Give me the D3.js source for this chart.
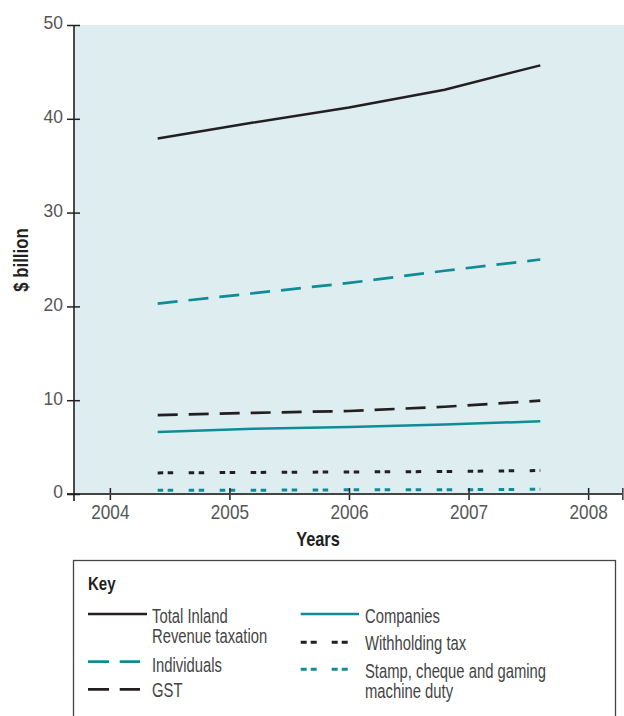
<!DOCTYPE html>
<html><head><meta charset="utf-8">
<script src="https://cdn.jsdelivr.net/npm/d3@7"></script>
<style>
html,body{margin:0;padding:0;background:#fff;}
svg{display:block;}
text{font-family:"Liberation Sans",Arial,sans-serif;}
</style></head>
<body><svg id="chart" width="624" height="716"></svg>
<script>
const years = [2004.4, 2005.2, 2006.0, 2006.8, 2007.6];
const total = [37.9, 39.6, 41.2, 43.1, 45.7];
const individuals = [20.3, 21.4, 22.5, 23.8, 25.0];
const gst = [8.4, 8.65, 8.85, 9.3, 9.95];
const companies = [6.6, 6.95, 7.15, 7.4, 7.75];
const withholding = [2.25, 2.3, 2.35, 2.4, 2.5];
const stamp = [0.4, 0.4, 0.45, 0.45, 0.5];
const xTicks = [2004, 2005, 2006, 2007, 2008];
const yTicks = [0, 10, 20, 30, 40, 50];
const seriesNames = ["Total Inland Revenue taxation", "Individuals", "GST", "Companies", "Withholding tax", "Stamp, cheque and gaming machine duty"];

const BLACK = "#231f20", TEAL = "#0f8c97";
const LONG = "20,11", SHORT = "5.5,4.5,5.5,15.5";
const series = [
  {name: seriesNames[0], values: total, color: BLACK, dash: null, w: 2.4, lines: ["Total Inland", "Revenue taxation"]},
  {name: seriesNames[1], values: individuals, color: TEAL, dash: LONG, w: 2.7, lines: ["Individuals"]},
  {name: seriesNames[2], values: gst, color: BLACK, dash: LONG, w: 2.7, lines: ["GST"]},
  {name: seriesNames[3], values: companies, color: TEAL, dash: null, w: 2.5, lines: ["Companies"]},
  {name: seriesNames[4], values: withholding, color: BLACK, dash: SHORT, w: 3, lines: ["Withholding tax"]},
  {name: seriesNames[5], values: stamp, color: TEAL, dash: SHORT, w: 3, lines: ["Stamp, cheque and gaming", "machine duty"]}
];

const svg = d3.select("#chart");
const L = 74, R = 624, T = 25, B = 494;
const x = d3.scaleLinear().domain([2003.7, 2008.3]).range([L, R]);
const y = d3.scaleLinear().domain([0, 50]).range([B, T]);

// condensed text helper
function ctext(parent, tx, ty, lines, size, sx, opts = {}) {
  const g = parent.append("g").attr("transform", `translate(${tx},${ty})${opts.rotate ? " rotate(" + opts.rotate + ")" : ""} scale(${sx},1)`);
  const t = g.append("text").style("font-size", size + "px").attr("fill", opts.fill || "#444")
    .attr("text-anchor", opts.anchor || "start");
  if (opts.bold) t.style("font-weight", "bold");
  lines.forEach((ln, j) => t.append("tspan").attr("x", 0).attr("y", opts.dys ? opts.dys[j] : 0).text(ln));
  return t;
}

// plot background
svg.append("rect").attr("x", L).attr("y", T).attr("width", R - L).attr("height", B - T).attr("fill", "#deedf0");

// lines
const line = d3.line().x((d, i) => x(years[i])).y(d => y(d));
series.forEach(s => {
  svg.append("path").datum(s.values).attr("d", line)
    .attr("fill", "none").attr("stroke", s.color).attr("stroke-width", s.w)
    .attr("stroke-dasharray", s.dash).attr("stroke-linejoin", "round");
});

// x axis
const TS = 0.86;
const xAxis = svg.append("g").attr("transform", `translate(0,${B})`)
  .call(d3.axisBottom(x).tickValues(xTicks).tickFormat(d3.format("d")).tickSize(6).tickSizeOuter(0));
xAxis.select(".domain").remove();
xAxis.selectAll(".tick line").attr("y1", -6).attr("y2", 6).attr("stroke", BLACK).attr("stroke-width", 1.5);
xAxis.selectAll(".tick text").attr("y", 10.5).attr("dy", "0.71em").attr("fill", "#555")
  .attr("transform", `scale(${TS},1)`).style("font-size", "20px");
svg.append("line").attr("x1", 67).attr("x2", R - 1).attr("y1", B).attr("y2", B).attr("stroke", "#444").attr("stroke-width", 1.8);
svg.append("line").attr("x1", R - 1.2).attr("x2", R - 1.2).attr("y1", B - 6).attr("y2", B + 6).attr("stroke", "#444").attr("stroke-width", 1.6);

// y axis
const yAxis = svg.append("g").attr("transform", `translate(${L},0)`)
  .call(d3.axisLeft(y).tickValues(yTicks).tickSize(7).tickSizeOuter(0));
yAxis.select(".domain").remove();
yAxis.selectAll(".tick line").attr("x1", -7).attr("x2", 6).attr("stroke", BLACK).attr("stroke-width", 1.5);
yAxis.selectAll(".tick text").attr("x", -11 / 0.92).attr("dy", "0.2em").attr("fill", "#555")
  .attr("transform", `scale(0.92,1)`).style("font-size", "19px");
svg.append("line").attr("x1", L).attr("x2", L).attr("y1", T).attr("y2", B + 7).attr("stroke", BLACK).attr("stroke-width", 1.6);

// axis titles
ctext(svg, 27.5, 260, ["$ billion"], 19.5, 0.86, {rotate: -90, anchor: "middle", bold: true, fill: BLACK});
ctext(svg, 318, 546, ["Years"], 19.5, 0.84, {anchor: "middle", bold: true, fill: BLACK});

// legend
const lg = svg.append("g");
lg.append("rect").attr("x", 73.5).attr("y", 560.5).attr("width", 542).attr("height", 180)
  .attr("fill", "#fff").attr("stroke", "#444").attr("stroke-width", 1.3);
ctext(lg, 88, 590, ["Key"], 17.5, 0.86, {bold: true, fill: BLACK});
const legendPos = [
  {lx: 88, lw: 59, ly: 614, tx: 152, ty: 622.5, dys: [0, 20.5]},
  {lx: 88, lw: 52, ly: 661.7, tx: 152, ty: 671.5},
  {lx: 88, lw: 52, ly: 689.3, tx: 152, ty: 697},
  {lx: 300.7, lw: 58.3, ly: 614, tx: 365, ty: 622.5},
  {lx: 300.7, lw: 47, ly: 642.3, tx: 365, ty: 650},
  {lx: 300.7, lw: 47, ly: 669.3, tx: 365, ty: 677.5, dys: [0, 20.5]}
];
series.forEach((s, i) => {
  const p = legendPos[i];
  lg.append("line").attr("x1", p.lx).attr("x2", p.lx + p.lw).attr("y1", p.ly).attr("y2", p.ly)
    .attr("stroke", s.color).attr("stroke-width", s.w).attr("stroke-dasharray", s.dash ? (s.dash === LONG ? "21,10.7" : "6,4,6,15") : null);
  ctext(lg, p.tx, p.ty, s.lines, 19.5, 0.76, {fill: "#444", dys: p.dys});
});
</script>
</body></html>
